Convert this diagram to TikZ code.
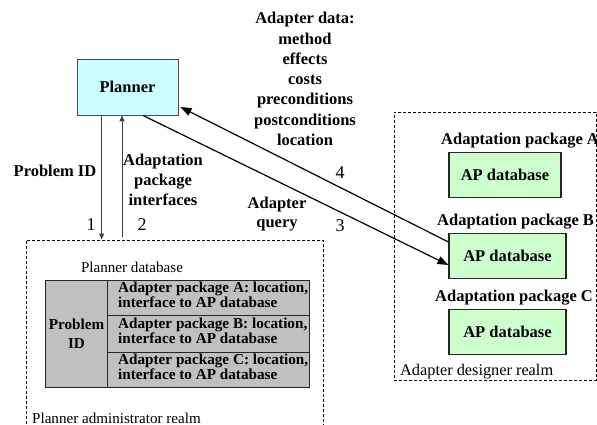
\documentclass[tikz,border=0pt]{standalone}
\usepackage{fontspec}
\setmainfont{Liberation Serif}
\newfontfamily\tmsfont{Liberation Serif}
\usetikzlibrary{arrows.meta}
\definecolor{plannerfill}{HTML}{CCFFFF}
\definecolor{apfill}{HTML}{CCFFCC}
\definecolor{tablefill}{HTML}{C0C0C0}
\tikzset{
  every node/.append style={font=\tmsfont},
  bfl/.style={font=\tmsfont\fontsize{16.5}{20.3}\selectfont\bfseries, align=center, inner sep=0pt},
  rml/.style={font=\tmsfont\fontsize{15.1}{18}\selectfont, inner sep=0pt},
  numl/.style={font=\tmsfont\fontsize{18}{20}\selectfont, inner sep=0pt},
  plannerbox/.style={draw=black!70, line width=0.9pt, fill=plannerfill,
    minimum width=101pt, minimum height=56pt, inner sep=0pt,
    font=\tmsfont\fontsize{16.5}{20}\selectfont\bfseries},
  apbox/.style={draw=black!85, line width=1.1pt, fill=apfill,
    minimum height=45pt, inner sep=0pt,
    font=\tmsfont\fontsize{16.5}{20}\selectfont\bfseries},
  realm/.style={draw, dashed, dash pattern=on 3pt off 2pt, line width=0.8pt,
    inner sep=0pt},
  cell/.style={draw=black!85, line width=1pt, fill=tablefill, inner sep=0pt},
  celltext/.style={font=\tmsfont\fontsize{15.2}{12}\selectfont\bfseries, align=left,
    inner sep=0pt},
  bigarrow/.style={line width=1.2pt, -{Triangle[length=11pt,width=8pt]}},
  smallarrow/.style={draw=black!75, line width=1pt, -{Triangle[length=6pt,width=5pt]}},
}
\begin{document}
\begin{tikzpicture}[x=1pt,y=-1pt]
\useasboundingbox (0,0) rectangle (597,425);

% realms
\node[realm, anchor=north west, minimum width=297pt, minimum height=200pt] (admin) at (26,239.5) {};
\node[realm, anchor=north west, minimum width=202pt, minimum height=268pt] (designer) at (394,112) {};

% planner
\node[plannerbox] (planner) at (127.5,87) {Planner};

% adaptation packages
\node[apbox, minimum width=112pt] (dbA) at (505,175) {AP database};
\node[apbox, minimum width=117pt] (dbB) at (507.5,256) {AP database};
\node[apbox, minimum width=117pt] (dbC) at (507.5,332) {AP database};
\node[bfl, anchor=west] (pkgA) at (441,141) {Adaptation package A};
\node[bfl, anchor=west] (pkgB) at (437,222) {Adaptation package B};
\node[bfl, anchor=west] (pkgC) at (435,298) {Adaptation package C};
\node[rml, anchor=west, font=\tmsfont\fontsize{16.3}{18}\selectfont] (desl) at (400,372) {Adapter designer realm};

% planner database table
\node[rml] (pdbl) at (132,267) {Planner database};
\node[cell, anchor=north west, minimum width=62pt, minimum height=107pt] (pid) at (45,280) {};
\node[font=\tmsfont\fontsize{15.2}{19}\selectfont\bfseries, align=center, inner sep=0pt] (pidt) at (pid.center) {Problem\\ID};
\node[cell, anchor=north west, minimum width=202pt, minimum height=35pt] (rowA) at (107,280) {};
\node[cell, anchor=north west, minimum width=202pt, minimum height=37pt] (rowB) at (107,315) {};
\node[cell, anchor=north west, minimum width=202pt, minimum height=35pt] (rowC) at (107,352) {};
\node[celltext, anchor=west] (tA) at ([xshift=11pt,yshift=3pt]rowA.west) {Adapter package A: location,\\interface to AP database};
\node[celltext, anchor=west] (tB) at ([xshift=11pt,yshift=3pt]rowB.west) {Adapter package B: location,\\interface to AP database};
\node[celltext, anchor=west] (tC) at ([xshift=11pt,yshift=3pt]rowC.west) {Adapter package C: location,\\interface to AP database};
\node[rml, anchor=west] (adml) at (32,418) {Planner administrator realm};

% connectors
\draw[smallarrow] ([xshift=-25.8pt]planner.south) -- ([xshift=-25.8pt]planner.south |- admin.north);
\coordinate (q2) at (122,237);
\draw[smallarrow] (q2) -- (q2 |- planner.south);
\draw[bigarrow] ([xshift=15.5pt]planner.south) -- ([yshift=-9pt]dbB.west);
\draw[bigarrow] ([yshift=14pt]dbB.west) -- ([xshift=2pt,yshift=-20pt]planner.east);

% labels
\node[bfl] (pidl) at (55,171) {Problem ID};
\node[bfl] (apil) at (163,180) {Adaptation\\package\\interfaces};
\node[bfl, font=\tmsfont\fontsize{16.5}{18.5}\selectfont\bfseries] (aql) at (277,214) {Adapter\\query};
\node[bfl] (adl) at (305,79) {Adapter data:\\method\\effects\\costs\\preconditions\\postconditions\\location};
\node[numl] (n1) at (91,225) {1};
\node[numl] (n2) at (142,225) {2};
\node[numl] (n3) at (340,226) {3};
\node[numl] (n4) at (340,173) {4};
\end{tikzpicture}
\end{document}
